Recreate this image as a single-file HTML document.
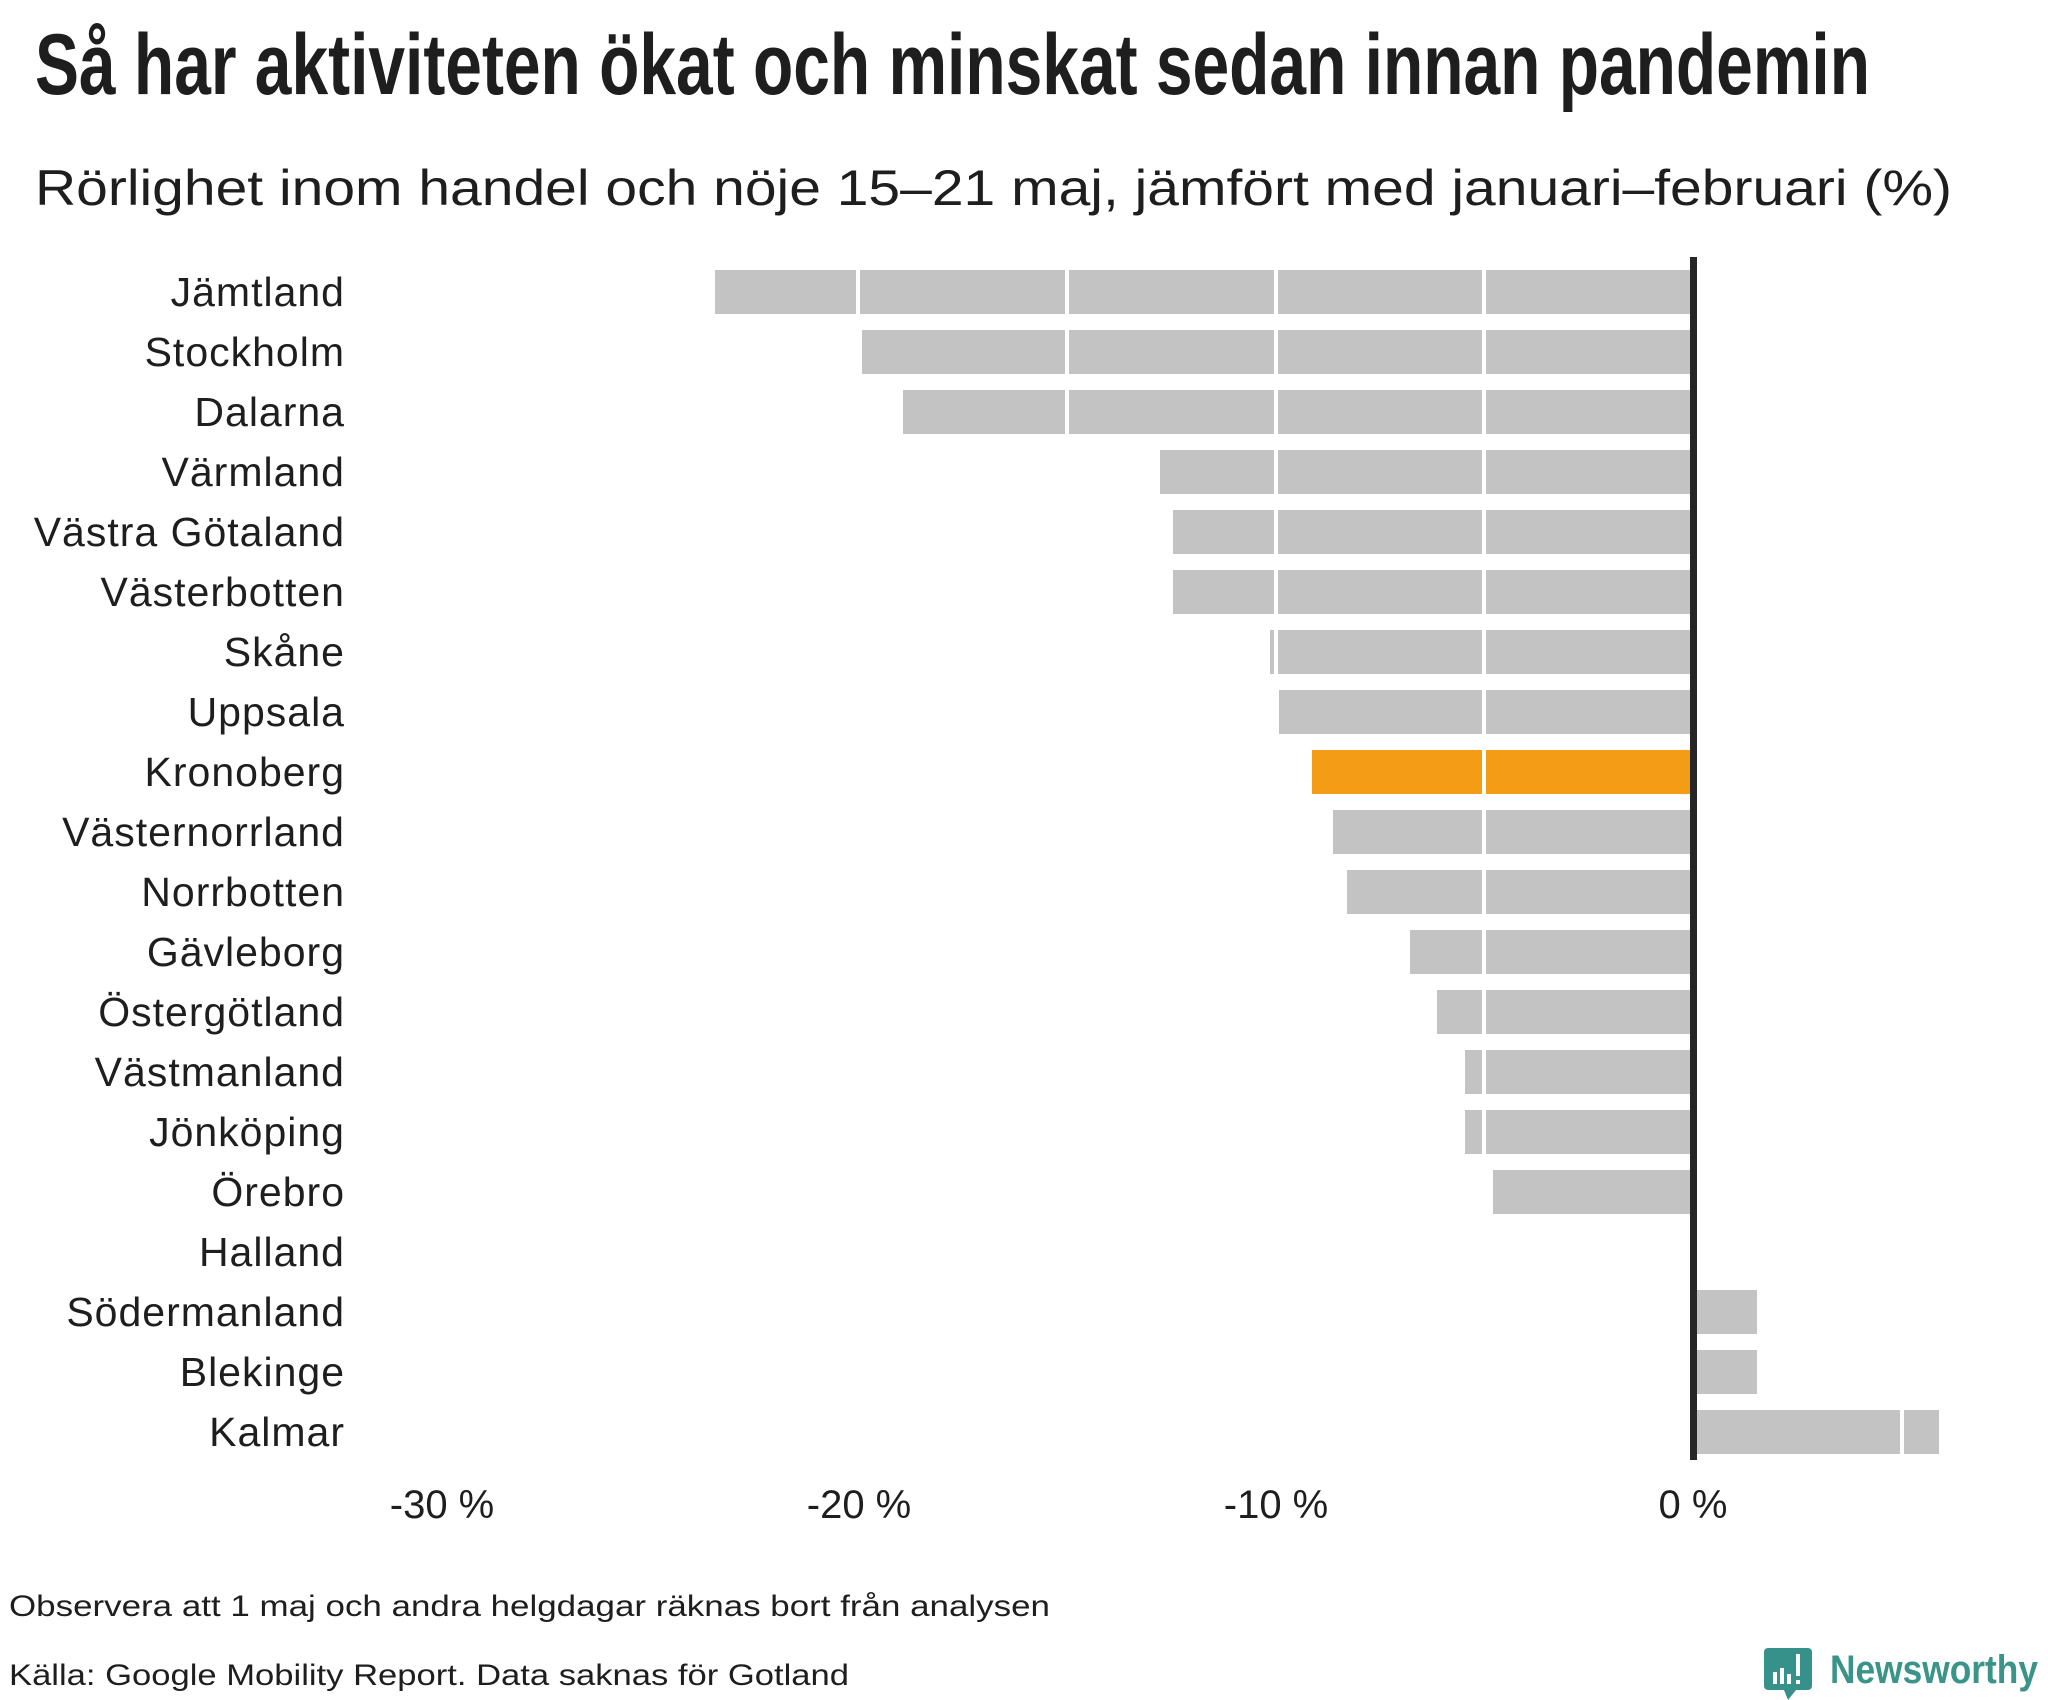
<!DOCTYPE html>
<html><head><meta charset="utf-8"><style>html,body{margin:0;padding:0;background:#fff}svg{display:block}</style></head>
<body>
<svg width="2048" height="1700" viewBox="0 0 2048 1700" xmlns="http://www.w3.org/2000/svg" font-family="Liberation Sans, sans-serif">
<rect width="2048" height="1700" fill="#fff"/>
<text x="35" y="94" font-size="86" font-weight="bold" fill="#1e1e1e" textLength="1835" lengthAdjust="spacingAndGlyphs">Så har aktiviteten ökat och minskat sedan innan pandemin</text>
<text x="35" y="205" font-size="50" fill="#1e1e1e" textLength="1917" lengthAdjust="spacingAndGlyphs">Rörlighet inom handel och nöje 15–21 maj, jämfört med januari–februari (%)</text>
<g fill="#c3c3c3">
<rect x="715" y="270" width="975" height="44"/>
<rect x="862" y="330" width="828" height="44"/>
<rect x="903" y="390" width="787" height="44"/>
<rect x="1160" y="450" width="530" height="44"/>
<rect x="1173" y="510" width="517" height="44"/>
<rect x="1173" y="570" width="517" height="44"/>
<rect x="1270" y="630" width="420" height="44"/>
<rect x="1279" y="690" width="411" height="44"/>
<rect x="1312" y="750" width="378" height="44" fill="#f59c17"/>
<rect x="1333" y="810" width="357" height="44"/>
<rect x="1347" y="870" width="343" height="44"/>
<rect x="1410" y="930" width="280" height="44"/>
<rect x="1437" y="990" width="253" height="44"/>
<rect x="1465" y="1050" width="225" height="44"/>
<rect x="1465" y="1110" width="225" height="44"/>
<rect x="1493" y="1170" width="197" height="44"/>
<rect x="1696" y="1290" width="61" height="44"/>
<rect x="1696" y="1350" width="61" height="44"/>
<rect x="1696" y="1410" width="243" height="44"/>
</g>
<g stroke="#fff" stroke-width="4">
<line x1="858" y1="260" x2="858" y2="1460"/>
<line x1="1067" y1="260" x2="1067" y2="1460"/>
<line x1="1276" y1="260" x2="1276" y2="1460"/>
<line x1="1484" y1="260" x2="1484" y2="1460"/>
<line x1="1902" y1="260" x2="1902" y2="1460"/>
</g>
<rect x="1690" y="257" width="7" height="1203" fill="#262626"/>
<g font-size="41" letter-spacing="1" fill="#1e1e1e" text-anchor="end">
<text x="345" y="306">Jämtland</text>
<text x="345" y="366">Stockholm</text>
<text x="345" y="426">Dalarna</text>
<text x="345" y="486">Värmland</text>
<text x="345" y="546">Västra Götaland</text>
<text x="345" y="606">Västerbotten</text>
<text x="345" y="666">Skåne</text>
<text x="345" y="726">Uppsala</text>
<text x="345" y="786">Kronoberg</text>
<text x="345" y="846">Västernorrland</text>
<text x="345" y="906">Norrbotten</text>
<text x="345" y="966">Gävleborg</text>
<text x="345" y="1026">Östergötland</text>
<text x="345" y="1086">Västmanland</text>
<text x="345" y="1146">Jönköping</text>
<text x="345" y="1206">Örebro</text>
<text x="345" y="1266">Halland</text>
<text x="345" y="1326">Södermanland</text>
<text x="345" y="1386">Blekinge</text>
<text x="345" y="1446">Kalmar</text>
</g>
<g font-size="40" fill="#1e1e1e" text-anchor="middle">
<text x="442" y="1518">-30 %</text>
<text x="859" y="1518">-20 %</text>
<text x="1276" y="1518">-10 %</text>
<text x="1693" y="1518">0 %</text>
</g>
<text x="9" y="1616" font-size="30" fill="#1e1e1e" textLength="1041" lengthAdjust="spacingAndGlyphs">Observera att 1 maj och andra helgdagar räknas bort från analysen</text>
<text x="9" y="1685" font-size="30" fill="#1e1e1e" textLength="840" lengthAdjust="spacingAndGlyphs">Källa: Google Mobility Report. Data saknas för Gotland</text>
<g>
<path d="M1768 1648 h40 a4 4 0 0 1 4 4 v34 a4 4 0 0 1 -4 4 h-12 l-8 10 l-4 -10 h-16 a4 4 0 0 1 -4 -4 v-34 a4 4 0 0 1 4 -4z" fill="#35918a"/>
<rect x="1773" y="1672" width="4" height="12" fill="#fff"/>
<rect x="1780" y="1668" width="4" height="16" fill="#fff"/>
<rect x="1787" y="1674" width="4" height="10" fill="#fff"/>
<rect x="1796" y="1654" width="4" height="22" fill="#fff"/>
<rect x="1796" y="1680" width="4" height="4" fill="#fff"/>
<text x="1830" y="1683" font-size="40" font-weight="bold" fill="#3a9488" textLength="208" lengthAdjust="spacingAndGlyphs">Newsworthy</text>
</g>
</svg>
</body></html>
